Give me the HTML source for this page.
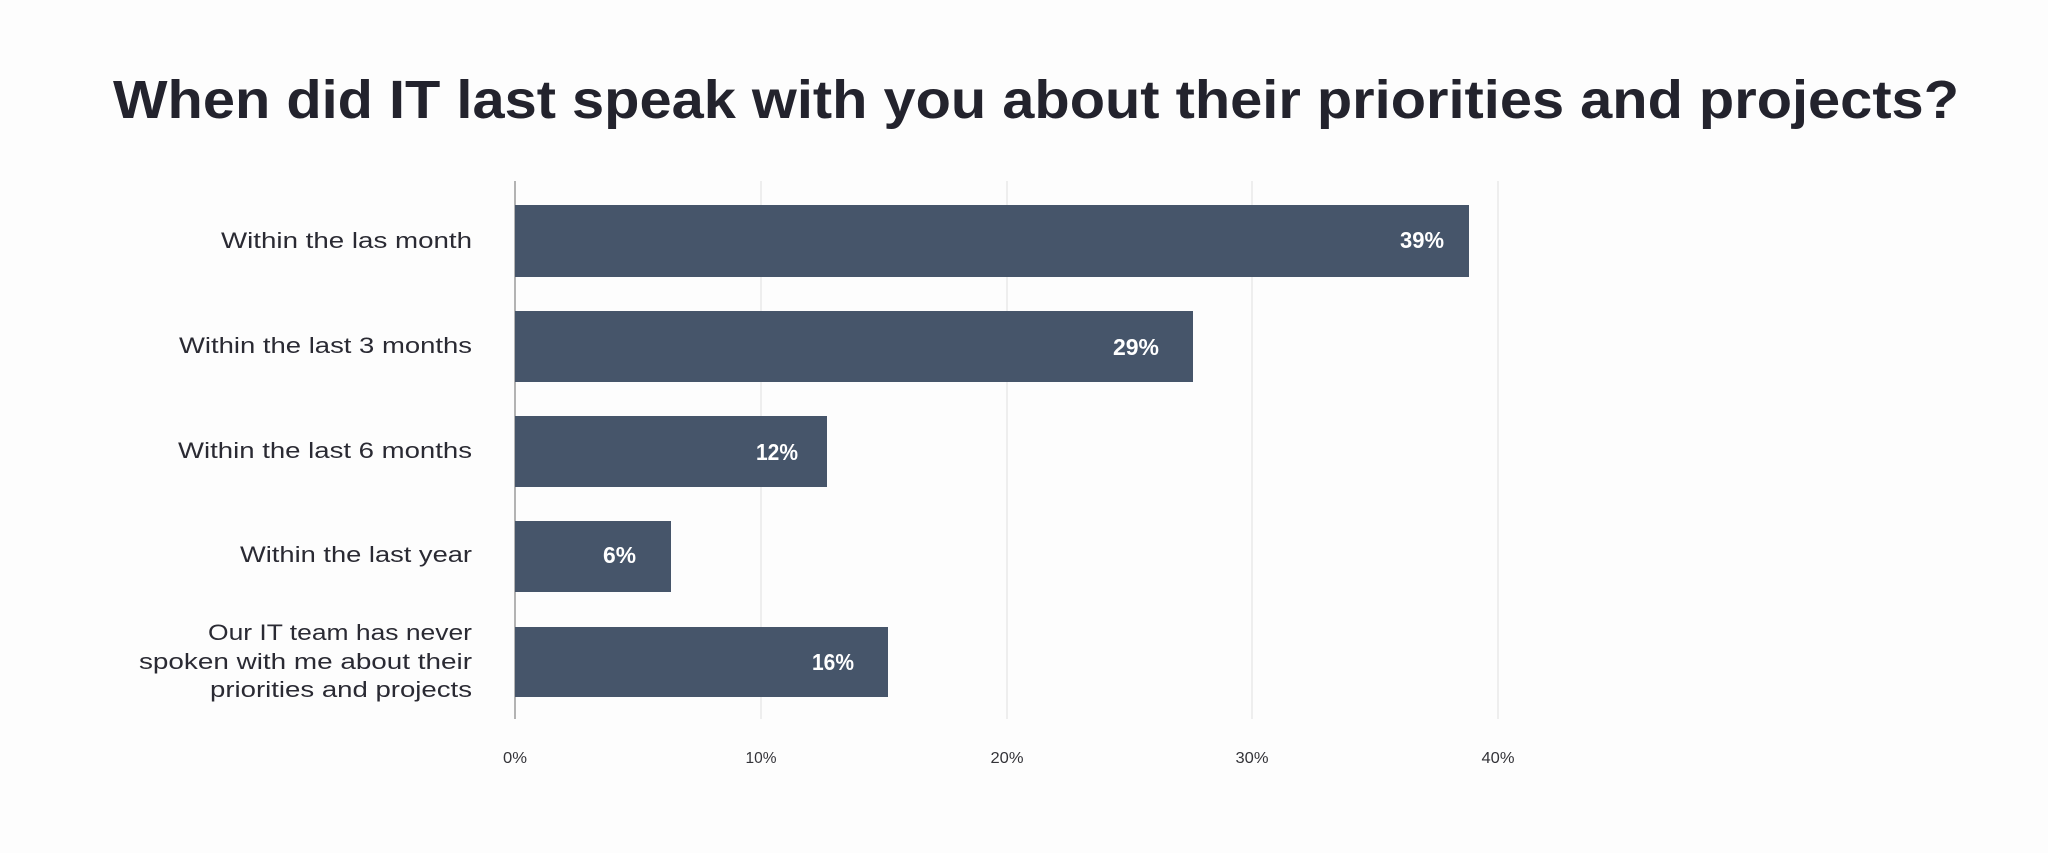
<!DOCTYPE html>
<html>
<head>
<meta charset="utf-8">
<style>
  html, body { margin: 0; padding: 0; background: #fdfdfd; }
  body { width: 2048px; height: 853px; overflow: hidden; }
  svg { display: block; }
</style>
</head>
<body>
<svg width="2048" height="853" viewBox="0 0 2048 853" xmlns="http://www.w3.org/2000/svg">
  <rect x="0" y="0" width="2048" height="853" fill="#fdfdfd"/>

  <!-- Title -->
  <text x="113" y="118" font-family="'Liberation Sans', sans-serif" font-weight="bold" font-size="54" fill="#23232d" textLength="1846" lengthAdjust="spacingAndGlyphs">When did IT last speak with you about their priorities and projects?</text>

  <!-- Gridlines -->
  <g stroke="#eeeeee" stroke-width="2">
    <line x1="761" y1="181" x2="761" y2="719"/>
    <line x1="1007" y1="181" x2="1007" y2="719"/>
    <line x1="1252" y1="181" x2="1252" y2="719"/>
    <line x1="1498" y1="181" x2="1498" y2="719"/>
  </g>
  <!-- Axis -->
  <line x1="515" y1="181" x2="515" y2="719" stroke="#b3b3b3" stroke-width="2"/>

  <!-- Bars -->
  <g fill="#46556a">
    <rect x="515" y="205" width="954" height="72"/>
    <rect x="515" y="311" width="678" height="71"/>
    <rect x="515" y="416" width="312" height="71"/>
    <rect x="515" y="521" width="156" height="71"/>
    <rect x="515" y="627" width="373" height="70"/>
  </g>

  <!-- Value labels -->
  <g font-family="'Liberation Sans', sans-serif" font-weight="bold" font-size="23" fill="#ffffff">
    <text x="1400" y="248" textLength="44" lengthAdjust="spacingAndGlyphs">39%</text>
    <text x="1113" y="355" textLength="46" lengthAdjust="spacingAndGlyphs">29%</text>
    <text x="756" y="460" textLength="42" lengthAdjust="spacingAndGlyphs">12%</text>
    <text x="603" y="563" textLength="33" lengthAdjust="spacingAndGlyphs">6%</text>
    <text x="812" y="670" textLength="42" lengthAdjust="spacingAndGlyphs">16%</text>
  </g>

  <!-- Category labels -->
  <g font-family="'Liberation Sans', sans-serif" font-size="22" fill="#2a2a33">
    <text x="221" y="248" textLength="251" lengthAdjust="spacingAndGlyphs">Within the las month</text>
    <text x="179" y="353" textLength="293" lengthAdjust="spacingAndGlyphs">Within the last 3 months</text>
    <text x="178" y="458" textLength="294" lengthAdjust="spacingAndGlyphs">Within the last 6 months</text>
    <text x="240" y="562" textLength="232" lengthAdjust="spacingAndGlyphs">Within the last year</text>
    <text x="208" y="640" textLength="264" lengthAdjust="spacingAndGlyphs">Our IT team has never</text>
    <text x="139" y="669" textLength="333" lengthAdjust="spacingAndGlyphs">spoken with me about their</text>
    <text x="210" y="697" textLength="262" lengthAdjust="spacingAndGlyphs">priorities and projects</text>
  </g>

  <!-- Tick labels -->
  <g font-family="'Liberation Sans', sans-serif" font-size="16" fill="#333338" text-anchor="middle">
    <text x="515" y="763" textLength="24" lengthAdjust="spacingAndGlyphs">0%</text>
    <text x="761" y="763" textLength="31" lengthAdjust="spacingAndGlyphs">10%</text>
    <text x="1007" y="763" textLength="33" lengthAdjust="spacingAndGlyphs">20%</text>
    <text x="1252" y="763" textLength="33" lengthAdjust="spacingAndGlyphs">30%</text>
    <text x="1498" y="763" textLength="33" lengthAdjust="spacingAndGlyphs">40%</text>
  </g>
</svg>
</body>
</html>
